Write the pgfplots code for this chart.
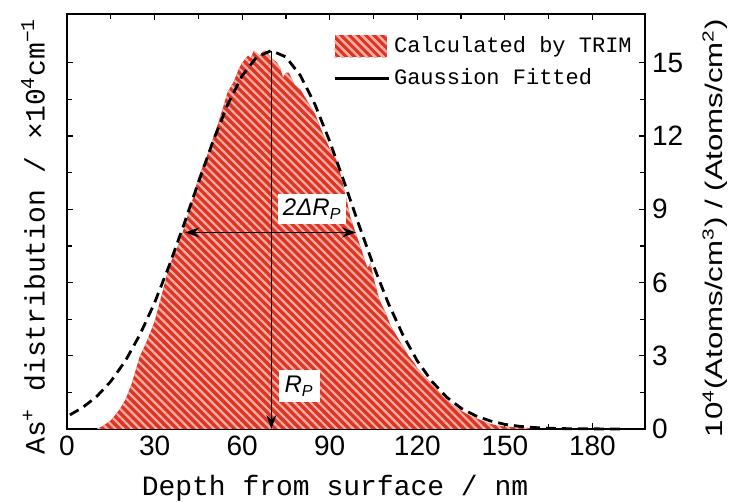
\documentclass[border=0pt]{standalone}
\usepackage{pgfplots}
\pgfplotsset{compat=1.18}
\usepackage{fontspec}
\setmainfont{Liberation Sans}
\newfontfamily\mono{Liberation Mono}
\usetikzlibrary{arrows.meta, patterns.meta}

\definecolor{trimred}{RGB}{222,52,38}
\definecolor{stripe}{RGB}{244,175,163}

\begin{document}
\begin{tikzpicture}
\begin{axis}[name=ax, scale only axis, width=289pt, height=207.5pt,
    xmin=0, xmax=198, ymin=0, ymax=17,
    xtick={0,30,...,180}, ytick={0,3,...,15},
    minor x tick num=1, minor y tick num=1,
    tick align=inside, major tick length=3pt, minor tick length=2.5pt,
    xtick pos=both, ytick pos=both, yticklabel pos=right,
    axis line style={line width=0.7pt}, every tick/.style={black, line width=0.6pt},
    tick label style={font=\fontsize{14}{16}\selectfont},
    /pgf/number format/assume math mode=true,
    legend style={at={(rel axis cs:0.995,0.965)}, anchor=north east, draw=none, fill=none,
        font=\mono\fontsize{11}{13}\selectfont, row sep=2.5pt, cells={anchor=west}},
    clip=false]

% TRIM histogram
\addplot[draw=none, fill=trimred,
    postaction={pattern={Lines[angle=-45, distance=2.9pt, line width=1.1pt]}, pattern color=stripe},
    legend image code/.code={\fill[trimred, postaction={pattern={Lines[angle=-45, distance=2.9pt, line width=1.1pt]}, pattern color=stripe}] (0pt,-5.5pt) rectangle (26pt,5.5pt);}]
coordinates {
(10,0) (12,0.1) (15,0.35) (18,0.8) (20,1.2) (22,1.8) (24,2.6) (25,3.0) (27,3.5) (28,3.8)
(30,4.4) (32,5.3) (34,6.2) (35,6.7) (37,7.2) (38,7.5) (40,8.2) (42,9.0) (43,9.4) (45,10.3)
(47,10.9) (48,11.2) (50,11.9) (52,12.6) (54,13.4) (55,13.8) (57,14.2) (59,14.8) (60,15.0)
(62,15.3) (63,15.2) (64,15.5) (66,15.3) (67,15.45) (68,15.5) (70,15.2) (72,15.0) (73,14.8)
(74,14.4) (75,14.6) (76,14.6) (78,14.1) (80,13.9) (82,13.5) (83,13.3) (85,12.9) (86,12.6)
(88,12.0) (90,11.5) (92,11.1) (93,10.8) (95,9.8) (96,9.3) (97,8.7) (99,8.0) (101,7.3)
(102,6.9) (103,6.6) (104,6.8) (105,6.2) (107,5.3) (109,4.8) (111,4.2) (113,3.8) (115,3.4)
(117,3.0) (119,2.7) (120,2.5) (122,2.2) (123,2.1) (126,1.7) (128,1.45) (129,1.3) (132,1.0)
(135,0.75) (138,0.55) (141,0.4) (144,0.25) (147,0.15) (150,0.1) (155,0.06) (160,0.03) (162,0)
} \closedcycle;
\addlegendentry{Calculated by TRIM}

% Gaussian fit
\addplot[black, line width=1.4pt, dash pattern=on 5pt off 3pt,
    legend image code/.code={\draw[black, solid, line width=1.4pt] (0pt,0pt) -- (27pt,0pt);}]
coordinates {
(1,0.58) (5,0.85) (10,1.31) (15,1.95) (20,2.79) (25,3.87) (30,5.17) (35,6.69) (40,8.36)
(45,10.10) (50,11.78) (55,13.28) (60,14.47) (65,15.24) (70,15.5) (75,15.24) (80,14.47)
(85,13.28) (90,11.78) (95,10.10) (100,8.36) (105,6.69) (110,5.17) (115,3.87) (120,2.79)
(125,1.95) (130,1.31) (135,0.85) (140,0.54) (145,0.33) (150,0.19) (155,0.11) (160,0.06)
(165,0.03) (170,0.015) (180,0.005) (190,0)
};
\addlegendentry{Gaussion Fitted}

% annotations
\addplot[black, line width=0.6pt, -{Stealth[length=7pt, width=5pt]}, forget plot]
    coordinates {(70,15.5) (70,0)};
\addplot[black, line width=0.6pt, {Stealth[length=7pt, width=5pt]}-{Stealth[length=7pt, width=5pt]}, forget plot]
    coordinates {(40.5,8.05) (99,8.05)};
\node[fill=white, inner sep=2.5pt, font=\itshape\fontsize{12}{14}\selectfont] at (axis cs:84,9.0) {2ΔR\textsubscript{P}};
\node[fill=white, inner sep=3pt, font=\itshape\fontsize{12}{14}\selectfont] at (axis cs:79.5,1.75) {R\textsubscript{P}};
\end{axis}

\node[rotate=90, font=\mono\fontsize{14}{16}\selectfont] at ([shift={(-17pt,-7.5pt)}]ax.west)
    {As\textsuperscript{+} distribution / ×10\textsuperscript{4}cm\textsuperscript{−1}};
\node[font=\mono\fontsize{14}{16}\selectfont] at ([shift={(-10.5pt,-29.5pt)}]ax.south)
    {Depth from surface / nm};
\node[rotate=90, font=\fontsize{12}{14}\selectfont] at ([shift={(35pt,-3.25pt)}]ax.east)
    {\scalebox{1.3}[1]{10\textsuperscript{4}(Atoms/cm\textsuperscript{3}) / (Atoms/cm\textsuperscript{2})}};

\pgfresetboundingbox
\path ([shift={(-33.5pt,-36.5pt)}]ax.south west) rectangle ([shift={(331.5pt,214.5pt)}]ax.south west);
\end{tikzpicture}
\end{document}
